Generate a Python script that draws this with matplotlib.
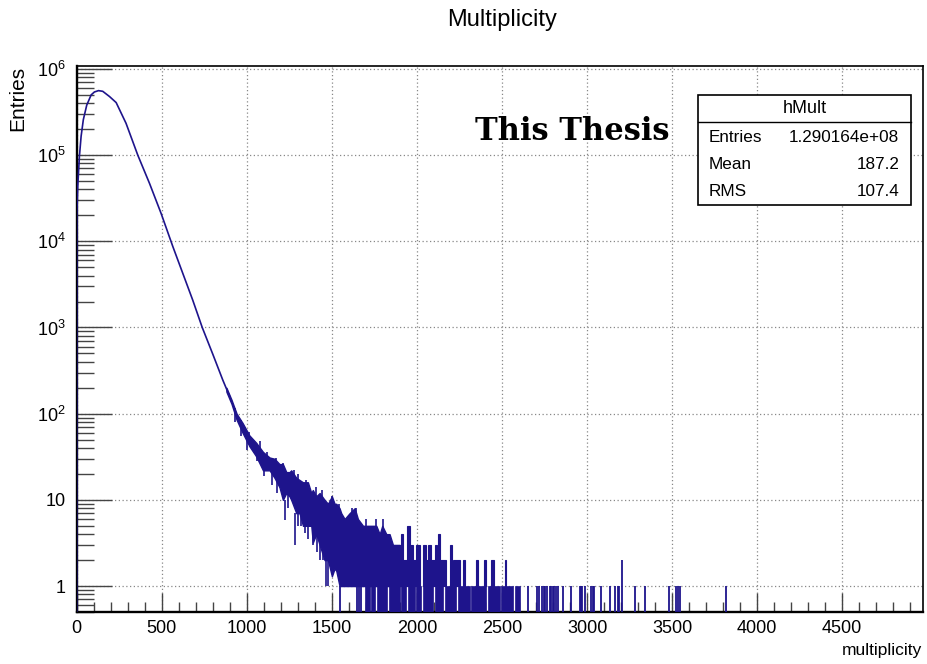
import numpy as np
import matplotlib
matplotlib.use('Agg')
import matplotlib.pyplot as plt
from matplotlib.patches import Rectangle
from matplotlib.lines import Line2D

# ---- data ----
# smooth part of the spectrum (bin centre, entries)
smooth_x = [0, 1, 6, 16, 26, 39, 59, 85, 104, 128, 153, 193, 232, 290, 359, 428, 496, 565, 682, 738, 800,
            859, 900]
smooth_y = [0.4, 2.1e4, 4.3e4, 9.7e4, 1.66e5, 2.58e5, 3.8e5, 5.0e5, 5.4e5, 5.6e5, 5.5e5, 4.78e5, 4.07e5,
            2.34e5, 1.0e5, 4.7e4, 2.11e4, 8.7e3, 2080, 1000, 490, 245, 157]

# noisy band: upper / lower envelope of the fluctuating bins
band_x = [880, 910, 940, 975, 1015, 1055, 1095, 1134, 1163, 1192, 1212, 1232, 1251, 1261, 1291, 1310, 1330,
          1359, 1379, 1388, 1408, 1428, 1457, 1477, 1500, 1516, 1526, 1545, 1555, 1575, 1604, 1634, 1653,
          1683, 1712, 1761, 1781, 1796, 1820, 1839, 1859, 1879, 1898]
band_hi = [200, 145, 100, 78, 56, 46, 36, 31, 30, 26, 26, 21, 21, 22, 18, 17, 16,
           16, 12, 13, 11, 12, 10, 9, 11, 9, 9, 8, 7, 6, 7, 8, 6,
           5, 5, 5, 4, 5, 4, 4, 3, 3, 3]
band_lo = [180, 130, 85, 60, 42, 32, 22, 22, 18, 14, 10, 12, 11, 10, 7, 7, 5,
           5, 5, 3.2, 4, 3, 2, 2, 1.3, 1.6, 1.5, 1, 1, 1, 1, 1, 1,
           1, 1, 1, 1, 1, 1, 1, 1, 1, 1]

# single bins sticking out of the band (x, low end, high end)
jit_x = [930, 965, 1000, 1010, 1060, 1080, 1100, 1120, 1150, 1170, 1180, 1215, 1222, 1240, 1275, 1281,
         1300, 1320, 1340, 1350, 1360, 1389, 1405, 1410, 1430, 1440, 1447, 1463, 1477, 1500, 1540, 1620,
         1640, 1700, 1760, 1800]
jit_lo = [80, 55, 38, 45, 28, 35, 19, 25, 15, 20, 12, 15, 5.8, 8, 12, 3.0,
          5, 5, 4.1, 8, 3.5, 3.0, 6, 2.5, 2, 5, 2.0, 1.0, 1.0, 4, 3, 3,
          3, 2, 2, 2]
jit_hi = [115, 85, 50, 62, 40, 48, 30, 36, 24, 31, 18, 27, 10, 14, 22, 7,
          20, 9, 6, 17, 6, 5, 14, 5, 4, 13, 3, 2, 2, 11, 9, 8,
          8, 6, 6, 6]

# groups of bins above one entry (start, end, entries)
run_start = [1898, 1908, 1918, 1941, 1961, 1976, 1992, 2035, 2055, 2065, 2084, 2104, 2123, 2137, 2149,
             2192, 2212, 2271, 2349, 2392, 2437, 2516]
run_end = [1914, 1918, 1941, 1961, 1976, 1992, 2016, 2055, 2065, 2084, 2104, 2118, 2137, 2149, 2173,
           2208, 2251, 2280, 2359, 2404, 2451, 2522]
run_n = [3, 4, 2, 5, 3, 2, 3, 3, 2, 3, 2, 3, 4, 2, 2, 3, 2, 2, 2, 2, 2, 2]

# region where bins flip between 0 and 1 entries (drawn down to the axis)
floor_start = [1692, 1732, 1765, 1836, 1908, 1947, 1996, 2036, 2104, 2163, 2241, 2320, 2418, 2496, 2575]
floor_end = [1722, 1751, 1824, 1898, 1938, 1987, 2026, 2094, 2153, 2232, 2310, 2408, 2487, 2565, 2608]

# isolated bins
single_x = [1545, 1645, 1660, 1674, 2653, 2705, 2715, 2737, 2745, 2755, 2765, 2784, 2790, 2797, 2804,
            2818, 2831, 2857, 2906, 2959, 2966, 2973, 2990, 3026, 3034, 3043, 3082, 3132, 3165, 3180,
            3190, 3207, 3280, 3338, 3479, 3521, 3536, 3548, 3816]
single_n = [1, 1, 1, 1, 1, 1, 1, 1, 1, 1, 1, 1, 1, 1, 1,
            1, 1, 1, 1, 1, 1, 1, 1, 1, 1, 1, 1, 1, 1, 1,
            1, 2, 1, 1, 1, 1, 1, 1, 1]

x_ticks = [0, 500, 1000, 1500, 2000, 2500, 3000, 3500, 4000, 4500]
y_ticks = [1, 10, 1e2, 1e3, 1e4, 1e5, 1e6]
y_ticklabels = ['1', '10', '$10^{2}$', '$10^{3}$', '$10^{4}$', '$10^{5}$', '$10^{6}$']

stats_names = ['Entries', 'Mean', 'RMS']
stats_values = ['1.290164e+08', '187.2', '107.4']

# ---- plotting ----
plt.rcParams['font.family'] = ['Liberation Sans']
plt.rcParams['mathtext.fontset'] = 'custom'
plt.rcParams['mathtext.rm'] = 'Liberation Sans'
LINE_C = '#1e148c'
YMIN, YMAX = 0.5, 1.09e6

W, H = 927, 664
fig = plt.figure(figsize=(W / 100, H / 100), dpi=100)
ax = fig.add_axes([76.7 / W, 1 - 612 / H, (922.7 - 76.7) / W, (612 - 65.7) / H])
ax.set_yscale('log')
ax.set_xlim(0, 4973)
ax.set_ylim(YMIN, YMAX)

ax.plot(smooth_x, smooth_y, color=LINE_C, lw=1.2, zorder=3)
ax.fill_between(band_x, band_lo, band_hi, color=LINE_C, lw=1.0, edgecolor=LINE_C, zorder=3)
ax.vlines(jit_x, jit_lo, jit_hi, color=LINE_C, lw=1.2, zorder=3)
ax.bar(run_start, np.array(run_n) - 1, width=np.array(run_end) - np.array(run_start), bottom=1,
       align='edge', color=LINE_C, edgecolor=LINE_C, lw=0.8, zorder=3)
ax.bar(floor_start, 1 - YMIN / 2, width=np.array(floor_end) - np.array(floor_start), bottom=YMIN / 2,
       align='edge', color=LINE_C, edgecolor=LINE_C, lw=0.5, zorder=3)
ax.vlines(single_x, YMIN / 2, single_n, color=LINE_C, lw=1.3, zorder=3)

ax.set_xticks(x_ticks)
ax.set_xticks(np.arange(100, 4973, 100), minor=True)
ax.set_yticks(y_ticks)
ax.set_yticklabels(y_ticklabels)
ax.xaxis.set_minor_formatter(plt.NullFormatter())
ax.yaxis.set_minor_formatter(plt.NullFormatter())
ax.tick_params(which='both', direction='in', top=False, right=False, color='#444444', width=1,
               labelsize=13)
ax.tick_params(axis='x', which='major', length=14, pad=6)
ax.tick_params(axis='x', which='minor', length=7)
ax.tick_params(axis='y', which='major', length=25, pad=8)
ax.tick_params(axis='y', which='minor', length=12)
ax.grid(True, which='major', color='#888888', ls=(0, (1, 2)), lw=0.9)
ax.set_axisbelow(True)
for side in ['bottom', 'left']:
    ax.spines[side].set_linewidth(1.7)
for side in ['top', 'right']:
    ax.spines[side].set_linewidth(1.2)

fig.text(502 / W, 1 - 20 / H, 'Multiplicity', ha='center', va='center', fontsize=17)
fig.text(18 / W, 1 - 66 / H, 'Entries', rotation=90, ha='center', va='top', fontsize=15)
fig.text(922 / W, 1 - 650 / H, 'multiplicity', ha='right', va='center', fontsize=12.5)
fig.text(475 / W, 1 - 140 / H, 'This Thesis', ha='left', va='baseline', fontsize=22,
         family='DejaVu Serif', fontweight='bold', zorder=5)

# stats box
x0, x1, y0, y1, ysep = 698.3, 910.7, 95, 205, 122.3
fig.add_artist(Rectangle((x0 / W, 1 - y1 / H), (x1 - x0) / W, (y1 - y0) / H, transform=fig.transFigure,
                         facecolor='white', edgecolor='black', lw=1.2, zorder=6))
fig.add_artist(Line2D([x0 / W, x1 / W], [1 - ysep / H, 1 - ysep / H], transform=fig.transFigure,
                      color='black', lw=1.0, zorder=7))
fig.text((x0 + x1) / 2 / W, 1 - 108.5 / H, 'hMult', ha='center', va='center', fontsize=13, zorder=8)
for i, (name, val) in enumerate(zip(stats_names, stats_values)):
    yy = 1 - (137 + 27.3 * i) / H
    fig.text(709 / W, yy, name, ha='left', va='center', fontsize=12.3, zorder=8)
    fig.text(899.3 / W, yy, val, ha='right', va='center', fontsize=12.3, zorder=8)

fig.savefig('out.png', dpi=100, facecolor='white')
